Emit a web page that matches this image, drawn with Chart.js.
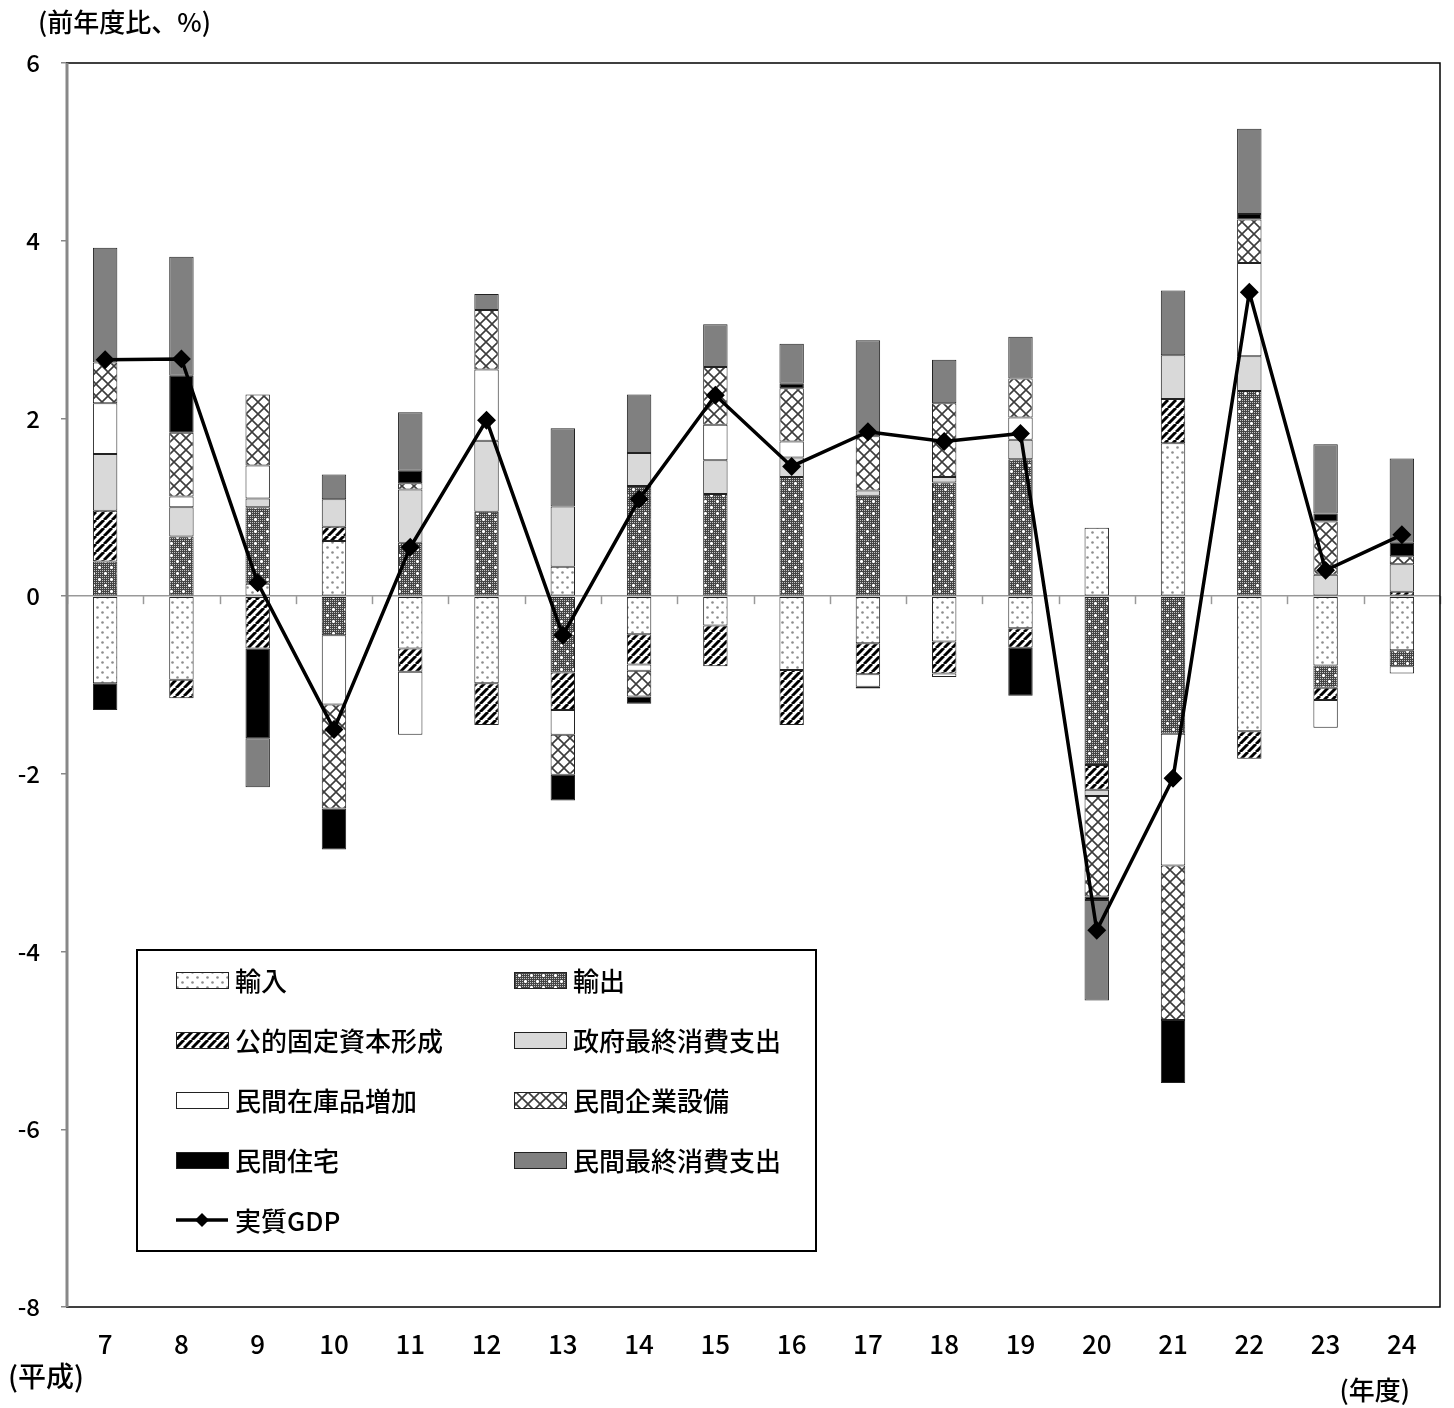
<!DOCTYPE html>
<html>
<head>
<meta charset="utf-8">
<script src="https://cdn.jsdelivr.net/npm/chart.js@4.4.0/dist/chart.umd.min.js"></script>
<style>
  html, body { margin: 0; padding: 0; background: #fff; }
</style>
</head>
<body>
<canvas id="chart" width="1454" height="1408"></canvas>
<script>
// 年度（平成）
const years = ["7", "8", "9", "10", "11", "12", "13", "14", "15", "16", "17", "18", "19", "20", "21", "22", "23", "24"];

// 寄与度（%ポイント）
const imports      = [-0.98, -0.94, 0.14, 0.62, -0.59, -0.98, 0.33, -0.43, -0.33, -0.83, -0.53, -0.51, -0.36, 0.77, 1.72, -1.52, -0.78, -0.61];
const exportsData  = [0.39, 0.67, 0.86, -0.44, 0.60, 0.95, -0.86, 1.24, 1.15, 1.34, 1.13, 1.28, 1.54, -1.90, -1.55, 2.31, -0.25, -0.18];
const publicInv    = [0.57, -0.21, -0.59, 0.16, -0.26, -0.47, -0.42, -0.34, -0.46, -0.62, -0.35, -0.36, -0.22, -0.28, 0.50, -0.31, -0.14, 0.05];
const govConsump   = [0.64, 0.33, 0.10, 0.31, 0.60, 0.80, 0.68, 0.37, 0.38, 0.22, 0.06, 0.06, 0.22, -0.07, 0.49, 0.39, 0.24, 0.31];
const inventory    = [0.57, 0.12, 0.37, -0.78, -0.71, 0.80, -0.28, -0.07, 0.40, 0.18, -0.14, -0.04, 0.25, 0, -1.48, 1.05, -0.31, -0.08];
const bizInvest    = [0.46, 0.72, 0.80, -1.17, 0.07, 0.67, -0.45, -0.29, 0.65, 0.60, 0.61, 0.83, 0.44, -1.13, -1.74, 0.49, 0.60, 0.09];
const housing      = [-0.30, 0.64, -1.01, -0.46, 0.14, 0, -0.29, -0.08, 0, 0.05, -0.02, 0, -0.54, -0.04, -0.71, 0.06, 0.09, 0.15];
const privConsump  = [1.29, 1.34, -0.55, 0.28, 0.66, 0.18, 0.88, 0.66, 0.48, 0.45, 1.08, 0.49, 0.47, -1.13, 0.73, 0.96, 0.78, 0.95];
const realGdp      = [2.66, 2.67, 0.15, -1.50, 0.55, 1.98, -0.44, 1.09, 2.26, 1.46, 1.85, 1.74, 1.83, -3.76, -2.05, 3.42, 0.29, 0.69];

const FONT = '"Noto Sans CJK JP", "Noto Sans", sans-serif';
const canvas = document.getElementById("chart");
const ctx = canvas.getContext("2d");

// パターン作成
function makePattern(w, h, draw) {
  const c = document.createElement("canvas");
  c.width = w;
  c.height = h;
  const g = c.getContext("2d");
  g.fillStyle = "#fff";
  g.fillRect(0, 0, w, h);
  draw(g, w, h);
  return ctx.createPattern(c, "repeat");
}

const dotFill = makePattern(10, 10, (g) => {
  g.fillStyle = "#8c8c8c";
  [[2.5, 2.5], [7.5, 7.5]].forEach(([x, y]) => {
    g.beginPath();
    g.arc(x, y, 1.3, 0, Math.PI * 2);
    g.fill();
  });
});

const exportFill = makePattern(12, 12, (g, w, h) => {
  g.fillStyle = "#444";
  g.fillRect(0, 0, w, h);
  g.fillStyle = "#c4c4c4";
  for (let x = 0; x < w; x += 2) {
    for (let y = 0; y < h; y += 2) g.fillRect(x, y, 1, 1);
  }
  g.fillStyle = "#fff";
  [[3, 3], [9, 9]].forEach(([x, y]) => {
    g.fillRect(x - 1, y, 3, 1);
    g.fillRect(x, y - 1, 1, 3);
  });
});

const hatchFill = makePattern(8, 8, (g) => {
  g.strokeStyle = "#000";
  g.lineWidth = 3;
  [-8, 0, 8].forEach((k) => {
    g.beginPath();
    g.moveTo(k, 8);
    g.lineTo(k + 8, 0);
    g.stroke();
  });
});

const crossFill = makePattern(12, 12, (g) => {
  g.strokeStyle = "#3c3c3c";
  g.lineWidth = 1.6;
  g.beginPath();
  g.moveTo(0, 0); g.lineTo(12, 12);
  g.moveTo(0, 12); g.lineTo(12, 0);
  g.stroke();
});

const barSeries = [
  ["輸入", imports, dotFill],
  ["輸出", exportsData, exportFill],
  ["公的固定資本形成", publicInv, hatchFill],
  ["政府最終消費支出", govConsump, "#d9d9d9"],
  ["民間在庫品増加", inventory, "#ffffff"],
  ["民間企業設備", bizInvest, crossFill],
  ["民間住宅", housing, "#000000"],
  ["民間最終消費支出", privConsump, "#808080"]
];

const datasets = barSeries.map(([label, values, fill]) => ({
  type: "bar",
  label,
  data: values.map((v) => (v === 0 ? null : v)),
  backgroundColor: fill,
  borderColor: "#222",
  borderWidth: 1,
  borderSkipped: false,
  barPercentage: 0.32,
  categoryPercentage: 1,
  stack: "contrib",
  order: 1
}));

datasets.push({
  type: "line",
  label: "実質GDP",
  data: realGdp,
  borderColor: "#000",
  backgroundColor: "#000",
  borderWidth: 3.5,
  pointStyle: "rectRot",
  pointRadius: 7,
  pointBackgroundColor: "#000",
  pointBorderColor: "#000",
  tension: 0,
  stack: "gdp",
  order: 0
});

// 枠線・ゼロ線の目盛・凡例・注記
const decorations = {
  id: "decorations",
  afterDatasetsDraw(chart) {
    const { ctx: c, scales } = chart;
    const x = scales.x;
    const y0 = scales.y.getPixelForValue(0);
    c.save();
    c.strokeStyle = "#999";
    c.lineWidth = 1.5;
    for (let i = 0; i <= years.length; i++) {
      const px = Math.round(x.getPixelForValue(i - 0.5)) + 0.5;
      c.beginPath();
      c.moveTo(px, y0);
      c.lineTo(px, y0 + 8);
      c.stroke();
    }
    c.restore();
  },
  afterDraw(chart) {
    const { ctx: c, chartArea: a } = chart;
    c.save();
    // 枠
    c.strokeStyle = "#000";
    c.lineWidth = 1.5;
    c.strokeRect(a.left, a.top, a.right - a.left, a.bottom - a.top);
    c.strokeStyle = "#888";
    c.lineWidth = 3;
    c.beginPath();
    c.moveTo(a.left, a.top);
    c.lineTo(a.left, a.bottom);
    c.stroke();

    // 凡例
    const box = { x: 137, y: 950, w: 679, h: 301 };
    c.fillStyle = "#fff";
    c.fillRect(box.x, box.y, box.w, box.h);
    c.strokeStyle = "#000";
    c.lineWidth = 2;
    c.strokeRect(box.x, box.y, box.w, box.h);
    c.font = "500 26px " + FONT;
    c.textBaseline = "middle";
    c.textAlign = "left";
    const cols = [176, 514];
    const rows = [980, 1040, 1100, 1160, 1220];
    chart.data.datasets.forEach((ds, i) => {
      const cx = cols[i % 2];
      const cy = rows[Math.floor(i / 2)];
      if (ds.type === "bar") {
        c.fillStyle = ds.backgroundColor;
        c.fillRect(cx, cy - 8, 52, 16);
        c.strokeStyle = "#222";
        c.lineWidth = 1;
        c.strokeRect(cx + 0.5, cy - 7.5, 52, 16);
      } else {
        c.strokeStyle = "#000";
        c.lineWidth = 3.5;
        c.beginPath();
        c.moveTo(cx, cy);
        c.lineTo(cx + 52, cy);
        c.stroke();
        c.fillStyle = "#000";
        c.beginPath();
        c.moveTo(cx + 26, cy - 7);
        c.lineTo(cx + 33, cy);
        c.lineTo(cx + 26, cy + 7);
        c.lineTo(cx + 19, cy);
        c.closePath();
        c.fill();
      }
      c.fillStyle = "#000";
      c.fillText(ds.label, cx + 59, cy + 1);
    });

    // 注記
    c.font = "500 26px " + FONT;
    c.fillStyle = "#000";
    c.textAlign = "left";
    c.fillText("(前年度比、%)", 38, 22);
    c.font = "500 28px " + FONT;
    c.fillText("(平成)", 8, 1376);
    c.textAlign = "right";
    c.font = "500 26px " + FONT;
    c.fillText("(年度)", 1410, 1390);
    c.restore();
  }
};

new Chart(ctx, {
  data: { labels: years, datasets },
  options: {
    responsive: false,
    animation: false,
    devicePixelRatio: 1,
    layout: { padding: { left: 0, top: 63, right: 14, bottom: 0 } },
    plugins: {
      legend: { display: false },
      tooltip: { enabled: false }
    },
    scales: {
      x: {
        stacked: true,
        grid: { display: false, drawTicks: false },
        border: { display: false },
        ticks: { color: "#000", font: { family: FONT, size: 26, weight: "500" }, padding: 22, maxRotation: 0 },
        afterFit(scale) { scale.height = 101; }
      },
      y: {
        stacked: true,
        min: -8,
        max: 6,
        ticks: { stepSize: 2, color: "#000", font: { family: FONT, size: 24, weight: "500" }, padding: 21 },
        grid: {
          color: (c) => (c.tick && c.tick.value === 0 ? "#999" : "rgba(0,0,0,0)"),
          lineWidth: 1.5,
          tickColor: "#888",
          tickLength: 6
        },
        border: { display: false },
        afterFit(scale) { scale.width = 67; }
      }
    }
  },
  plugins: [decorations]
});
</script>
</body>
</html>
